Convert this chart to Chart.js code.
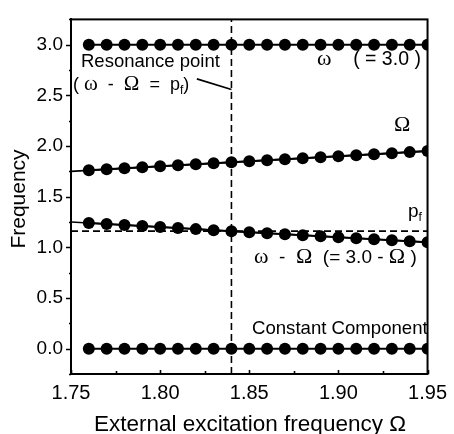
<!DOCTYPE html>
<html>
<head>
<meta charset="utf-8">
<script src="https://cdn.jsdelivr.net/npm/chart.js@4/dist/chart.umd.min.js"></script>
<style>
  html,body{margin:0;padding:0;background:#fff;}
  #wrap{width:454px;height:434px;position:relative;}
</style>
</head>
<body>
<div id="wrap"><canvas id="chart" width="454" height="434"></canvas></div>
<script>
// --- data ---
const omegaExc   = [1.76,1.77,1.78,1.79,1.80,1.81,1.82,1.83,1.84,1.85,1.86,1.87,1.88,1.89,1.90,1.91,1.92,1.93,1.94,1.95];
const omegaVals  = [3.0,3.0,3.0,3.0,3.0,3.0,3.0,3.0,3.0,3.0,3.0,3.0,3.0,3.0,3.0,3.0,3.0,3.0,3.0,3.0];
const bigOmVals  = [1.76,1.77,1.78,1.79,1.80,1.81,1.82,1.83,1.84,1.85,1.86,1.87,1.88,1.89,1.90,1.91,1.92,1.93,1.94,1.95];
const diffVals   = [1.24,1.23,1.22,1.21,1.20,1.19,1.18,1.17,1.16,1.15,1.14,1.13,1.12,1.11,1.10,1.09,1.08,1.07,1.06,1.05];
const constVals  = [0,0,0,0,0,0,0,0,0,0,0,0,0,0,0,0,0,0,0,0];
const lineX      = [1.75,1.95];
const bigOmLine  = [1.75,1.95];
const diffLine   = [1.25,1.05];
const pf = 1.16;
const resonance = 1.84;
const leaderX = [1.8206,1.84];
const leaderY = [2.663,2.558];
const xTicks = [1.75,1.80,1.85,1.90,1.95];
const yTicks = [0,0.5,1.0,1.5,2.0,2.5,3.0];

const SANS = '"Liberation Sans", Arial, sans-serif';
const SERIF = '"Liberation Serif", "Times New Roman", serif';

const pts = vals => omegaExc.map((x,i)=>({x, y: vals[i]}));
const dotSet = vals => ({ data: pts(vals), showLine:true, borderColor:'#000', borderWidth:2,
  pointRadius:6, pointBackgroundColor:'#000', pointBorderWidth:0, pointHoverRadius:6 });
const lineSet = (xs, ys, dash) => ({ data: xs.map((x,i)=>({x, y: ys[i]})), showLine:true,
  borderColor:'#000', borderWidth:1.6, borderDash: dash || [], pointRadius:0 });

// tick marks, frame and annotations
const decor = {
  id:'decor',
  afterDraw(chart){
    const {ctx, chartArea:a, scales:{x, y}} = chart;
    ctx.save();
    ctx.strokeStyle = '#000';
    ctx.lineWidth = 2;
    ctx.strokeRect(a.left, a.top, a.right - a.left, a.bottom - a.top);
    ctx.lineWidth = 1.6;
    ctx.beginPath();
    for(let v = -0.25; v <= 3.25 + 1e-9; v += 0.25){
      const py = Math.round(y.getPixelForValue(v)) + 0.5;
      const major = Math.abs(v*2 - Math.round(v*2)) < 1e-6;
      ctx.moveTo(a.left, py); ctx.lineTo(a.left - (major ? 5 : 2), py);
    }
    for(let v = 1.75; v <= 1.95 + 1e-9; v += 0.025){
      const px = Math.round(x.getPixelForValue(v)) + 0.5;
      const major = Math.abs(v*20 - Math.round(v*20)) < 1e-6;
      ctx.moveTo(px, a.bottom); ctx.lineTo(px, a.bottom - (major ? 4 : 3));
    }
    ctx.stroke();

    ctx.fillStyle = '#000';
    ctx.textBaseline = 'alphabetic';
    ctx.textAlign = 'left';
    const runs = (x0, y0, parts) => {
      let cx = x0;
      parts.forEach(p => { ctx.font = p.f; ctx.fillText(p.t, cx, y0 + (p.dy||0)); cx += ctx.measureText(p.t).width; });
    };
    const s = n => n + 'px ' + SANS, r = n => n + 'px ' + SERIF;
    runs(81, 67, [{t:'Resonance point', f:s(18.5)}]);
    runs(73, 90, [{t:'( ', f:s(18)},{t:'ω', f:r(21)},{t:'  -  ', f:s(18)},{t:'Ω', f:r(21)},
                  {t:'  =  p', f:s(18)},{t:'f', f:s(12), dy:4},{t:')', f:s(18)}]);
    runs(317, 65, [{t:'ω', f:r(22)},{t:'    ( = 3.0 )', f:s(19.5)}]);
    runs(394, 131, [{t:'Ω', f:r(22)}]);
    runs(408, 217, [{t:'p', f:s(19)},{t:'f', f:s(12), dy:4}]);
    runs(254, 263, [{t:'ω', f:r(22)},{t:'  -  ', f:s(19)},{t:'Ω', f:r(22)},{t:'  (= 3.0 - ', f:s(19)},
                    {t:'Ω', f:r(22)},{t:' )', f:s(19)}]);
    runs(252, 334, [{t:'Constant Component', f:s(18.6)}]);

    ctx.font = '22.5px ' + SANS;
    ctx.textAlign = 'center';
    ctx.fillText('External excitation frequency Ω', 250, 431);
    ctx.font = '21px ' + SANS;
    ctx.translate(25, 199);
    ctx.rotate(-Math.PI/2);
    ctx.fillText('Frequency', 0, 0);
    ctx.restore();
  }
};

new Chart(document.getElementById('chart'), {
  type:'scatter',
  data:{
    datasets:[
      dotSet(omegaVals),
      dotSet(bigOmVals),
      dotSet(diffVals),
      dotSet(constVals),
      lineSet(lineX, bigOmLine),
      lineSet(lineX, diffLine),
      lineSet(lineX, [pf, pf], [7,4]),
      lineSet([resonance, resonance], [-0.25, 3.25], [7,4]),
      lineSet(leaderX, leaderY)
    ]
  },
  options:{
    responsive:false, animation:false,
    layout:{ padding:{ top:12, right:23, left:0, bottom:0 } },
    plugins:{ legend:{ display:false }, tooltip:{ enabled:false } },
    scales:{
      x:{
        type:'linear', min:1.75, max:1.95,
        afterBuildTicks: s => { s.ticks = xTicks.map(v => ({value:v})); },
        afterFit: s => { s.height = 60; },
        grid:{ display:false, drawTicks:false },
        border:{ display:true, color:'#000', width:2 },
        ticks:{ color:'#000', padding:7, maxRotation:0, font:{ family:SANS, size:20 },
          callback: v => Number(v).toFixed(2) }
      },
      y:{
        type:'linear', min:-0.25, max:3.25,
        afterBuildTicks: s => { s.ticks = yTicks.map(v => ({value:v})); },
        afterFit: s => { s.width = 71; },
        grid:{ display:false, drawTicks:false },
        border:{ display:true, color:'#000', width:2 },
        ticks:{ color:'#000', padding:8, font:{ family:SANS, size:19 },
          callback: v => Number(v).toFixed(1) }
      }
    }
  },
  plugins:[decor]
});
</script>
</body>
</html>
